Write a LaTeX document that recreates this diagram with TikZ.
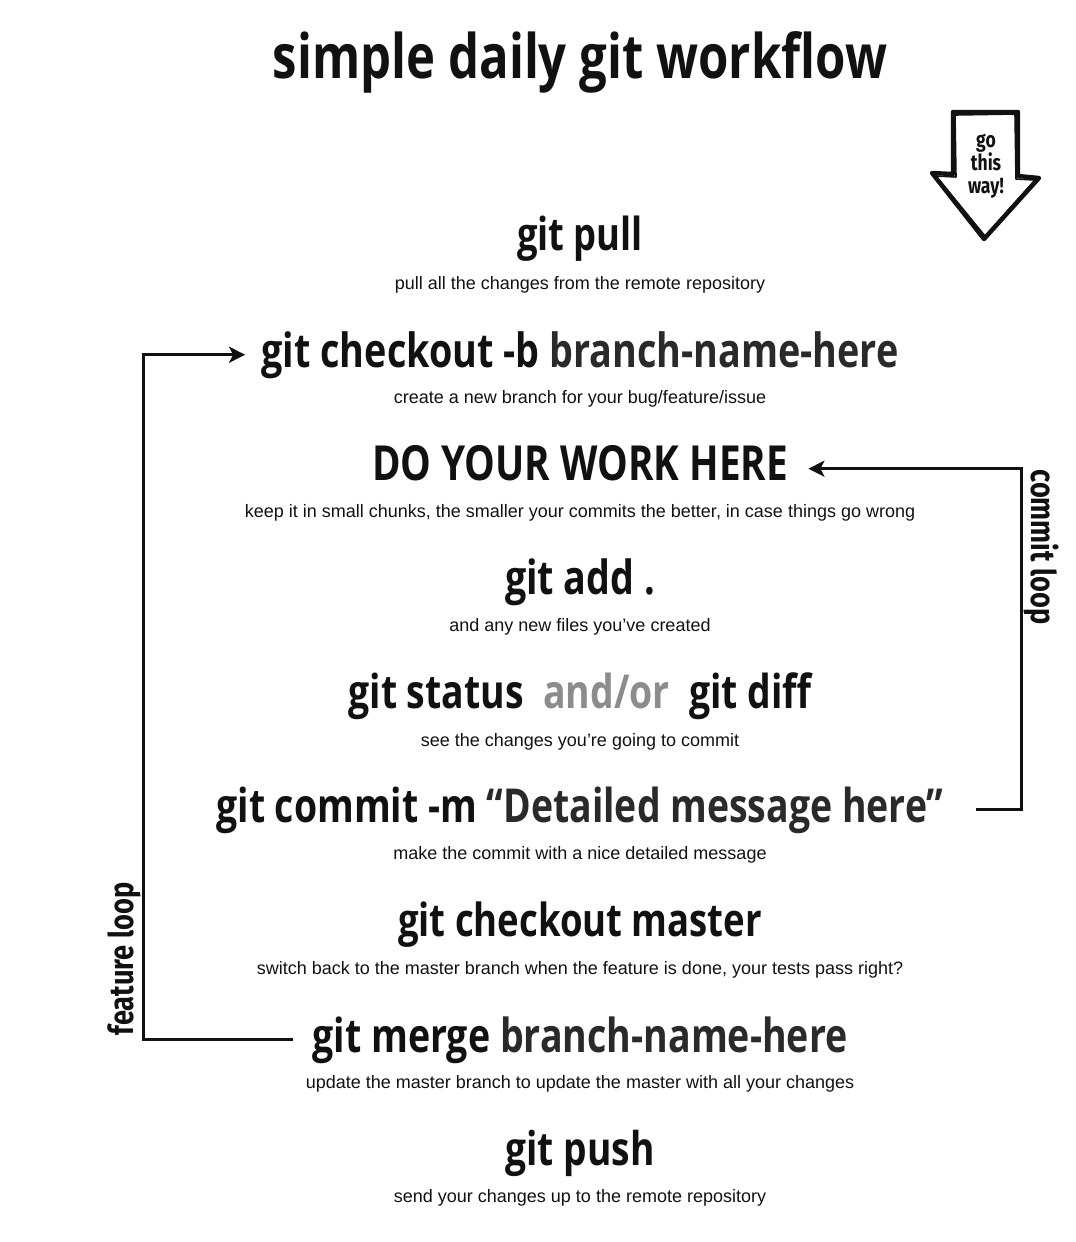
\documentclass[tikz,border=0pt]{standalone}
\usepackage{fontspec}
\usepackage{graphicx}
\setmainfont{Liberation Sans}
\newfontfamily\hfont{Open Sans}[FakeStretch=0.8]
\newfontfamily\lfont{Fira Sans}[FakeStretch=0.8]
\usetikzlibrary{arrows.meta}
\definecolor{ink}{HTML}{111111}
\definecolor{ink2}{HTML}{2A2A2A}
\definecolor{andor}{HTML}{8C8C8C}
\newcommand\hd[2]{\resizebox{#1pt}{!}{\hfont\bfseries #2}}
\tikzset{
  head/.style={anchor=base, inner sep=0pt, text=ink},
  sub/.style={anchor=base, inner sep=0pt, font=\fontsize{9}{10}\selectfont, text=ink},
  loopline/.style={line width=1.5pt, draw=ink, -{Stealth[length=8pt,width=8pt,inset=2pt]}},
  looplabel/.style={inner sep=0pt, font=\lfont\bfseries\fontsize{17}{18}\selectfont, text=ink},
}
\begin{document}
\begin{tikzpicture}[x=0.5pt,y=-0.5pt]
\useasboundingbox (0,0) rectangle (1076,1242);
% title
\node[head] (title) at (580,78) {\hd{307}{simple daily git workflow}};
% go this way arrow
\begin{scope}[line width=2.2pt, draw=ink, line join=round]
\draw (953,112) -- (1018,112) -- (1018,176) -- (1039,178) -- (984,239) -- (932,173) -- (953,174) -- cycle;
\draw[line width=0.8pt] (955,115) -- (1015,114) -- (1016,179) -- (1035,180) -- (985,236) -- (936,176) -- (956,177) -- cycle;
\end{scope}
\node[inner sep=0pt, align=center, font=\lfont\bfseries\fontsize{11}{11.5}\selectfont, text=ink] (go) at (986,166) {go\\this\\way!};
% steps
\node[head] (pull) at (580,250) {\hd{63}{git pull}};
\node[sub] (pullsub) at (580,289) {pull all the changes from the remote repository};
\node[head] (checkout) at (580,367) {\hd{318.5}{git checkout -b \textcolor{ink2}{branch-name-here}}};
\node[sub] (checkoutsub) at (580,403) {create a new branch for your bug/feature/issue};
\node[head] (work) at (580,480) {\hd{208}{DO YOUR WORK HERE}};
\node[sub] (worksub) at (580,517) {keep it in small chunks, the smaller your commits the better, in case things go wrong};
\node[head] (add) at (580,594) {\hd{75}{git add .}};
\node[sub] (addsub) at (580,631) {and any new files you've created};
\node[head] (status) at (580,708) {\hd{231.5}{git status \ \textcolor{andor}{and/or} \ git diff}};
\node[sub] (statussub) at (580,746) {see the changes you're going to commit};
\node[head] (commit) at (580,822) {\hd{363.5}{git commit -m \textcolor{ink2}{“Detailed message here”}}};
\node[sub] (commitsub) at (580,859) {make the commit with a nice detailed message};
\node[head] (master) at (580,936) {\hd{182}{git checkout master}};
\node[sub] (mastersub) at (580,974) {switch back to the master branch when the feature is done, your tests pass right?};
\node[head] (merge) at (580,1052) {\hd{267.5}{git merge \textcolor{ink2}{branch-name-here}}};
\node[sub] (mergesub) at (580,1088) {update the master branch to update the master with all your changes};
\node[head] (push) at (580,1165) {\hd{74.5}{git push}};
\node[sub] (pushsub) at (580,1202) {send your changes up to the remote repository};
% loops
\coordinate (fx) at (143,0);
\coordinate (cx) at (1021,0);
\coordinate (fstart) at ([xshift=-9.5pt]merge.west);
\coordinate (fend) at ([xshift=-8pt]checkout.west);
\coordinate (cstart) at ([xshift=16pt]commit.east);
\coordinate (cend) at ([xshift=10pt,yshift=-3pt]work.east);
\draw[loopline] (fstart) -| (fx |- fend) -- (fend);
\draw[loopline] (cstart) -| (cx |- cend) -- (cend);
\node[looplabel, rotate=90] (flabel) at (124,959) {feature loop};
\node[looplabel, rotate=-90] (clabel) at (1042,547) {commit loop};
\end{tikzpicture}
\end{document}
